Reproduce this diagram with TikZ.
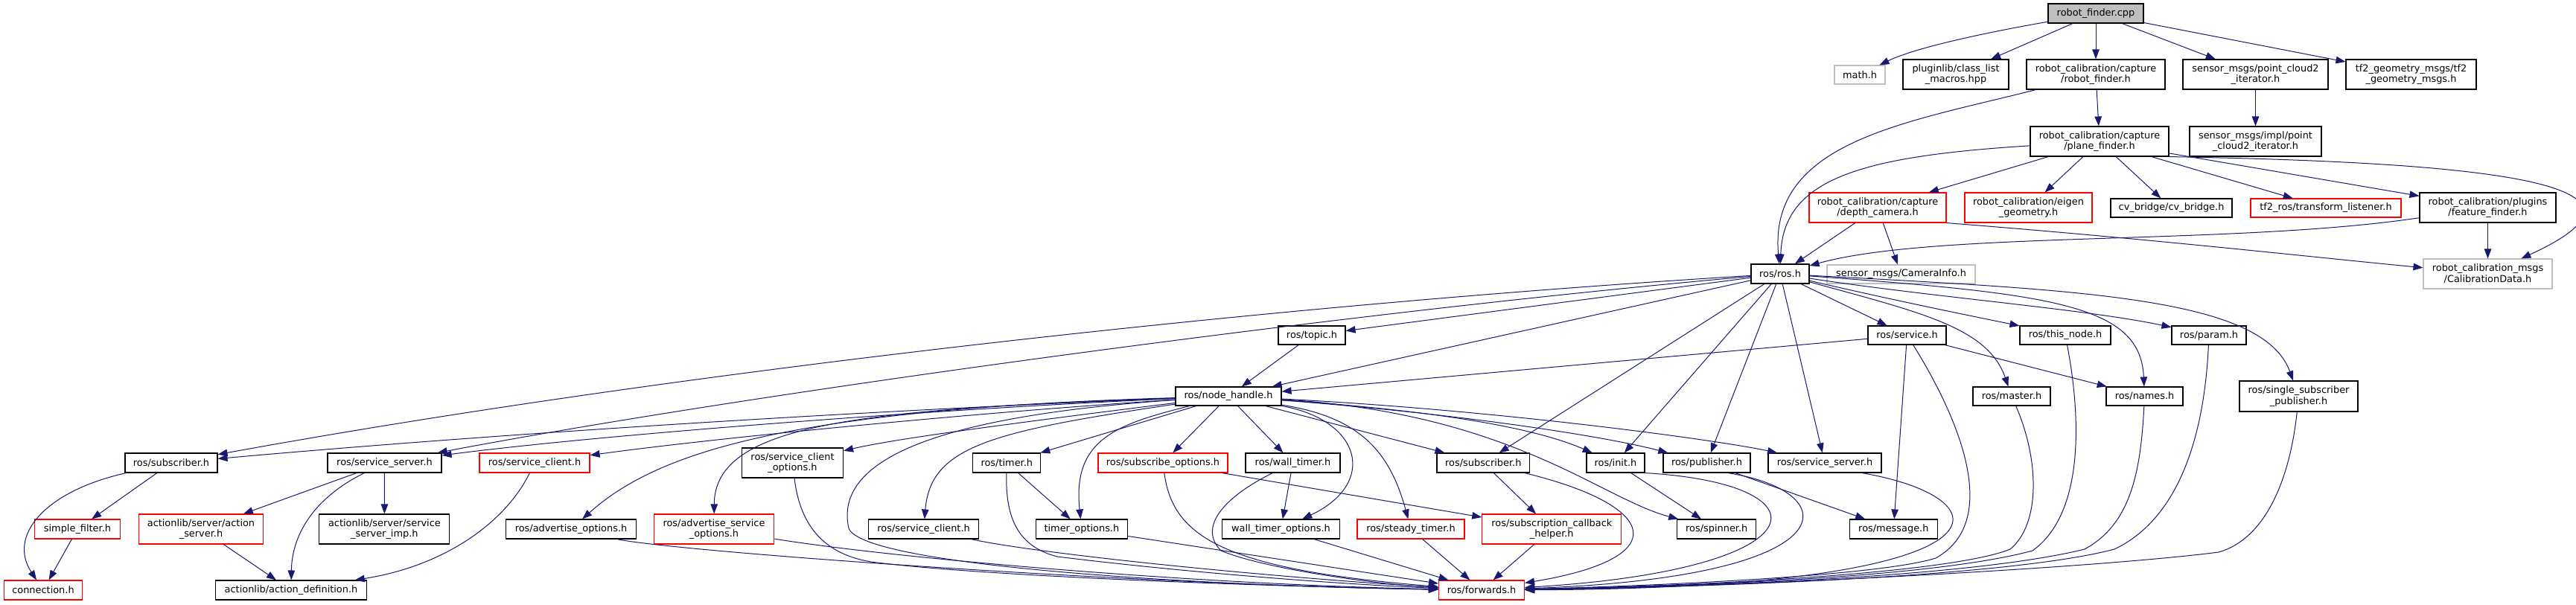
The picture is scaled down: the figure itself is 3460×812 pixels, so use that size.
\documentclass[tikz,border=0pt]{standalone}
\usepackage{fontspec}
\setmainfont{DejaVu Sans}
\usetikzlibrary{arrows.meta}
\definecolor{edgeblue}{HTML}{191970}
\definecolor{boxgray}{HTML}{BFBFBF}
\definecolor{boxred}{HTML}{FF0000}
\begin{document}
\begin{tikzpicture}[x=1pt,y=-1pt,
  every node/.style={font=\fontsize{12.9}{14.7}\selectfont},
  hbox/.style={draw=black,line width=1.1pt,inner sep=0pt,align=center,fill=white},
  rbox/.style={hbox,draw=boxred},
  gbox/.style={hbox,draw=boxgray},
  sa/.style={minimum height=26pt},
  sb/.style={minimum height=40pt},
  dep/.style={draw=edgeblue,line width=1pt,-{Triangle[length=13pt,width=9.5pt]}},
]
\useasboundingbox[fill=white] (0,0) rectangle (3460,812);
% row 0
\node[hbox,sa,minimum width=128pt,fill=boxgray] (root) at (2815,18) {robot\_finder.cpp};
% row 1
\node[gbox,minimum height=25pt,minimum width=68pt] (math) at (2498,100.5) {math.h};
\node[hbox,sb,minimum width=142pt] (plug) at (2627,100) {pluginlib/class\_list\\\_macros.hpp};
\node[hbox,sb,minimum width=186pt] (rfh) at (2815,100) {robot\_calibration/capture\\/robot\_finder.h};
\node[hbox,sb,minimum width=195pt] (pc2) at (3029.5,100) {sensor\_msgs/point\_cloud2\\\_iterator.h};
\node[hbox,sb,minimum width=175pt] (tfg) at (3238.5,100) {tf2\_geometry\_msgs/tf2\\\_geometry\_msgs.h};
% row 2
\node[hbox,sb,minimum width=186pt] (pf) at (2820,190) {robot\_calibration/capture\\/plane\_finder.h};
\node[hbox,sb,minimum width=177pt] (ipc) at (3029.5,190) {sensor\_msgs/impl/point\\\_cloud2\_iterator.h};
% row 3
\node[rbox,sb,minimum width=184pt] (dc) at (2522,279) {robot\_calibration/capture\\/depth\_camera.h};
\node[rbox,sb,minimum width=171pt] (eig) at (2724.5,279) {robot\_calibration/eigen\\\_geometry.h};
\node[hbox,minimum height=25pt,minimum width=163pt] (cvb) at (2916.5,279.5) {cv\_bridge/cv\_bridge.h};
\node[rbox,minimum height=25pt,minimum width=202pt] (tfl) at (3124,279.5) {tf2\_ros/transform\_listener.h};
\node[hbox,sb,minimum width=183pt] (ff) at (3341.5,279) {robot\_calibration/plugins\\/feature\_finder.h};
% row 4
\node[hbox,sa,minimum width=78pt] (ros) at (2391,368) {ros/ros.h};
\node[gbox,minimum height=25pt,minimum width=199pt] (ci) at (2553.5,368.5) {sensor\_msgs/CameraInfo.h};
\node[gbox,sb,minimum width=173pt] (cd) at (3341.5,368) {robot\_calibration\_msgs\\/CalibrationData.h};
% row 5
\node[hbox,minimum height=25pt,minimum width=90pt] (topic) at (1762,450.5) {ros/topic.h};
\node[hbox,minimum height=25pt,minimum width=105pt] (svc) at (2561.5,450.5) {ros/service.h};
\node[hbox,minimum height=25pt,minimum width=122pt] (tn) at (2774,450.5) {ros/this\_node.h};
\node[hbox,minimum height=25pt,minimum width=100pt] (param) at (2967,450.5) {ros/param.h};
% row 6
\node[hbox,minimum height=25pt,minimum width=142pt] (nh) at (1650,532.5) {ros/node\_handle.h};
\node[hbox,minimum height=25pt,minimum width=104pt] (master) at (2702,532.5) {ros/master.h};
\node[hbox,minimum height=25pt,minimum width=103pt] (names) at (2880.5,532.5) {ros/names.h};
\node[hbox,minimum height=41pt,minimum width=159pt] (ssp) at (3087.5,532.5) {ros/single\_subscriber\\\_publisher.h};
% row 7
\node[hbox,sa,minimum width=124pt] (subL) at (230,622) {ros/subscriber.h};
\node[hbox,sa,minimum width=153pt] (ssL) at (516.5,622) {ros/service\_server.h};
\node[rbox,sa,minimum width=148pt] (scR) at (718,622) {ros/service\_client.h};
\node[hbox,sb,minimum width=136pt] (sco) at (1064.5,622) {ros/service\_client\\\_options.h};
\node[hbox,sa,minimum width=91pt] (timer) at (1352.3,622) {ros/timer.h};
\node[rbox,sa,minimum width=174pt] (so) at (1562,622) {ros/subscribe\_options.h};
\node[hbox,sa,minimum width=127pt] (wt) at (1736.5,622) {ros/wall\_timer.h};
\node[hbox,sa,minimum width=124.6pt] (subR) at (1992.3,622) {ros/subscriber.h};
\node[hbox,sa,minimum width=78pt] (init) at (2170,622) {ros/init.h};
\node[hbox,sa,minimum width=117pt] (pub) at (2292.5,622) {ros/publisher.h};
\node[hbox,sa,minimum width=152pt] (ssR) at (2451,622) {ros/service\_server.h};
% row 8
\node[rbox,sa,minimum width=114.5pt] (sf) at (104,711) {simple\_filter.h};
\node[rbox,sb,minimum width=167pt] (as) at (270,711) {actionlib/server/action\\\_server.h};
\node[hbox,sb,minimum width=175pt] (ssi) at (516.4,711) {actionlib/server/service\\\_server\_imp.h};
\node[hbox,sa,minimum width=175pt] (ao) at (767,711) {ros/advertise\_options.h};
\node[rbox,sb,minimum width=161.5pt] (aso) at (959,711) {ros/advertise\_service\\\_options.h};
\node[hbox,sa,minimum width=147.6pt] (scB) at (1240.6,711) {ros/service\_client.h};
\node[hbox,sa,minimum width=123.7pt] (tmo) at (1452.9,711) {timer\_options.h};
\node[hbox,sa,minimum width=158pt] (wto) at (1720.4,711) {wall\_timer\_options.h};
\node[rbox,sa,minimum width=144pt] (st) at (1895,711) {ros/steady\_timer.h};
\node[rbox,sb,minimum width=187pt] (sch) at (2084.3,711) {ros/subscription\_callback\\\_helper.h};
\node[hbox,sa,minimum width=105.7pt] (spin) at (2305.7,711) {ros/spinner.h};
\node[hbox,sa,minimum width=118pt] (msg) at (2543.3,711) {ros/message.h};
% row 9
\node[rbox,sa,minimum width=105pt] (conn) at (58,793) {connection.h};
\node[hbox,sa,minimum width=203pt] (ad) at (391,793) {actionlib/action\_definition.h};
\node[rbox,sa,minimum width=115pt] (fwd) at (1990,793) {ros/forwards.h};

% ---- edges ----
\draw[dep] (root) .. controls (2660,45) and (2570,65) .. (math);
\draw[dep] (root) -- (plug);
\draw[dep] (root) -- (rfh);
\draw[dep] (root) -- (pc2);
\draw[dep] (root) -- (tfg);
\draw[dep] (rfh) .. controls (2560,165) and (2375,190) .. (ros);
\draw[dep] (rfh) -- (pf);
\draw[dep] (pc2) -- (ipc);
\draw[dep] (pf) .. controls (2500,210) and (2395,240) .. (ros);
\draw[dep] (pf) -- (dc);
\draw[dep] (pf) -- (eig);
\draw[dep] (pf) -- (cvb);
\draw[dep] (pf) -- (tfl);
\draw[dep] (pf) -- (ff);
\draw[dep] (pf.south east) .. controls (3330,218) and (3610,245) .. (cd);
\draw[dep] (dc) -- (ros);
\draw[dep] (dc) -- (ci);
\draw[dep] (dc.south east) .. controls (2900,322) and (3100,345) .. (cd);
\draw[dep] (ff) .. controls (3000,330) and (2600,310) .. (ros);
\draw[dep] (ff) -- (cd);
% ros
\draw[dep] (ros) .. controls (1700,410) and (900,500) .. (subL);
\draw[dep] (ros) .. controls (1800,420) and (1000,530) .. (ssL);
\draw[dep] (ros) -- (topic);
\draw[dep] (ros) -- (nh);
\draw[dep] (ros) -- (svc);
\draw[dep] (ros) .. controls (2550,405) and (2650,425) .. (tn);
\draw[dep] (ros) .. controls (2600,400) and (2800,415) .. (param);
\draw[dep] (ros) .. controls (2580,420) and (2670,440) .. (master);
\draw[dep] (ros) .. controls (2760,395) and (2875,410) .. (names);
\draw[dep] (ros) .. controls (2800,390) and (3040,400) .. (ssp);
\draw[dep] (ros) -- (subR);
\draw[dep] (ros) -- (init);
\draw[dep] (ros) -- (pub);
\draw[dep] (ros) -- (ssR);
% topic / service
\draw[dep] (topic) -- (nh);
\draw[dep] (svc) -- (nh);
\draw[dep] (svc) -- (names);
\draw[dep] (svc) -- (msg);
\draw[dep] (svc) .. controls (2630,560) and (2690,700) .. (2600,750) .. controls (2520,775) and (2200,788) .. (fwd);
% node_handle
\draw[dep] (nh) .. controls (1200,550) and (700,580) .. (subL);
\draw[dep] (nh) .. controls (1250,550) and (800,585) .. (ssL);
\draw[dep] (nh) .. controls (1300,555) and (950,590) .. (scR);
\draw[dep] (nh) .. controls (1350,570) and (1200,590) .. (sco);
\draw[dep] (nh) .. controls (1050,550) and (880,610) .. (ao);
\draw[dep] (nh) .. controls (1150,550) and (960,570) .. (aso);
\draw[dep] (nh) .. controls (1330,580) and (1250,600) .. (scB);
\draw[dep] (nh) -- (timer);
\draw[dep] (nh) .. controls (1500,570) and (1440,590) .. (tmo);
\draw[dep] (nh) -- (so);
\draw[dep] (nh) -- (wt);
\draw[dep] (nh) .. controls (1830,565) and (1850,650) .. (wto);
\draw[dep] (nh) .. controls (1820,560) and (1865,600) .. (st);
\draw[dep] (nh) -- (subR);
\draw[dep] (nh) .. controls (1900,550) and (2050,570) .. (init);
\draw[dep] (nh) .. controls (1950,555) and (2150,585) .. (pub);
\draw[dep] (nh) .. controls (2000,550) and (2300,590) .. (ssR);
\draw[dep] (nh) .. controls (2030,555) and (2150,670) .. (spin);
\draw[dep] (nh) .. controls (1250,560) and (1120,620) .. (1140,710) .. controls (1160,760) and (1600,787) .. (fwd);
% lower left
\draw[dep] (subL) -- (sf);
\draw[dep] (subL) .. controls (60,660) and (10,720) .. (conn);
\draw[dep] (sf) -- (conn);
\draw[dep] (ssL) -- (as);
\draw[dep] (ssL) -- (ssi);
\draw[dep] (ssL) .. controls (420,670) and (392,720) .. (ad);
\draw[dep] (as) -- (ad);
\draw[dep] (scR) .. controls (680,700) and (600,760) .. (ad);
% into forwards from the left
\draw[dep] (ao) .. controls (900,740) and (1500,785) .. (fwd);
\draw[dep] (aso) .. controls (1200,750) and (1600,785) .. (fwd);
\draw[dep] (sco) .. controls (1075,710) and (1110,745) .. (1170,755) .. controls (1350,778) and (1800,790) .. (fwd);
\draw[dep] (scB) .. controls (1400,745) and (1700,775) .. (fwd);
\draw[dep] (timer) .. controls (1350,700) and (1370,735) .. (1420,748) .. controls (1600,770) and (1800,785) .. (fwd);
\draw[dep] (timer) -- (tmo);
\draw[dep] (tmo) -- (fwd);
\draw[dep] (so) .. controls (1575,720) and (1640,765) .. (fwd);
\draw[dep] (so) -- (sch);
\draw[dep] (wt) -- (wto);
\draw[dep] (wt) .. controls (1640,670) and (1610,710) .. (1640,740) .. controls (1700,765) and (1850,785) .. (fwd);
\draw[dep] (wto) -- (fwd);
\draw[dep] (st) -- (fwd);
\draw[dep] (sch) -- (fwd);
% into forwards from the right
\draw[dep] (subR) .. controls (2230,680) and (2250,750) .. (fwd);
\draw[dep] (subR) -- (sch);
\draw[dep] (init) -- (spin);
\draw[dep] (init.south east) .. controls (2460,650) and (2450,765) .. (fwd);
\draw[dep] (pub) -- (msg);
\draw[dep] ([xshift=28pt]pub.south) .. controls (2480,660) and (2490,775) .. (fwd);
\draw[dep] ([xshift=50pt]ssR.south) .. controls (2700,670) and (2720,790) .. (fwd);
\draw[dep] (tn) .. controls (2795,560) and (2800,690) .. (2730,740) .. controls (2600,775) and (2300,787) .. (fwd);
\draw[dep] (master) .. controls (2740,620) and (2740,705) .. (2700,738) .. controls (2620,770) and (2300,787) .. (fwd);
\draw[dep] (names) .. controls (2875,640) and (2860,705) .. (2800,738) .. controls (2650,775) and (2300,788) .. (fwd);
\draw[dep] (param) .. controls (2960,600) and (2920,700) .. (2840,738) .. controls (2700,775) and (2300,789) .. (fwd);
\draw[dep] (ssp) .. controls (3075,650) and (3040,725) .. (2980,742) .. controls (2800,765) and (2300,790) .. (fwd);
\end{tikzpicture}
\end{document}
